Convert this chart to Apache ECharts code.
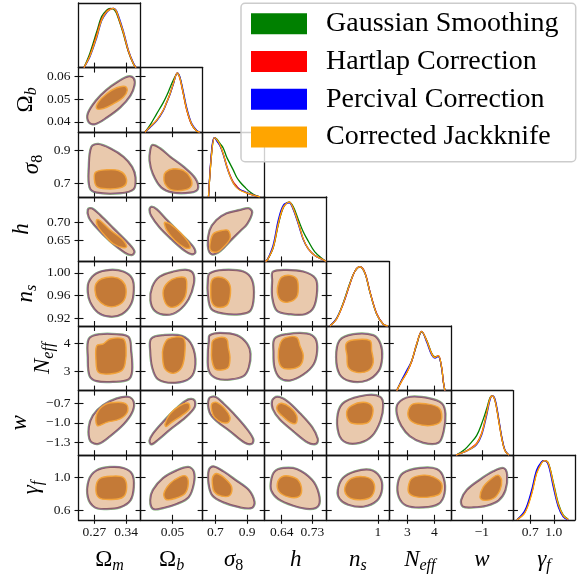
<!DOCTYPE html>
<html><head><meta charset="utf-8">
<script src="https://cdn.jsdelivr.net/npm/echarts@6/dist/echarts.min.js"></script>
<style>html,body{margin:0;padding:0;background:#fff}#c{width:587px;height:577px}</style>
</head><body><div id="c"></div>
<script>
// ---------- series / parameters ----------
const seriesNames = ['Gaussian Smoothing','Hartlap Correction','Percival Correction','Corrected Jackknife'];
const seriesColors = ['#008000','#ff0000','#0000ff','#ffa500'];
const paramKeys = ['Om','Ob','s8','h','ns','Neff','w','gf'];
const paramLabels = ['{g|Ω}{si|m}','{g|Ω}{si|b}','{i|σ}{su|8}','{i|h}','{i|n}{si|s}','{i|N}{si|eff}','{i|w}','{i|γ}{si|f}'];
const paramRanges = [[0.235,0.372],[0.0355,0.0637],[0.62,1.01],[0.59,0.772],[0.907,1.02],[2.31,4.61],[-1.5,-0.5],[0.48,1.27]];
const xTickValues = [[0.27,0.34],[0.05],[0.7,0.9],[0.64,0.73],[1],[3,4],[-1],[0.7,1.0]];
const xTickLabels = [['0.27','0.34'],['0.05'],['0.7','0.9'],['0.64','0.73'],['1'],['3','4'],['−1'],['0.7','1.0']];
const yTickValues = [[],[0.04,0.05,0.06],[0.7,0.9],[0.65,0.70],[0.92,0.96,1.00],[3,4],[-1.3,-1.0,-0.7],[0.6,1.0]];
const yTickLabels = [[],['0.04','0.05','0.06'],['0.7','0.9'],['0.65','0.70'],['0.92','0.96','1.00'],['3','4'],['−1.3','−1.0','−0.7'],['0.6','1.0']];

// ---------- 1D marginals (normalised to peak = 1) ----------
const Om_x = [0.247,0.260,0.275,0.286,0.297,0.305,0.312,0.318,0.323,0.334,0.345,0.356,0.362];
const Om_gauss = [0,0.24,0.60,0.86,0.97,1.00,0.99,0.93,0.83,0.57,0.27,0.06,0];
const Om_hart  = [0,0.20,0.55,0.82,0.95,0.99,1.00,0.95,0.85,0.59,0.28,0.07,0];
const Om_perc  = [0,0.18,0.50,0.79,0.93,0.98,1.00,0.97,0.88,0.62,0.30,0.08,0];
const Om_jack  = [0,0.19,0.52,0.80,0.94,0.98,1.00,0.96,0.86,0.60,0.29,0.07,0];

const Ob_x = [0.0375,0.0398,0.0428,0.0458,0.0474,0.0489,0.0504,0.0522,0.0534,0.0549,0.0565,0.0587,0.0610,0.0625];
const Ob_gauss = [0,0.12,0.31,0.50,0.62,0.75,0.88,0.99,0.92,0.66,0.38,0.13,0.02,0];
const Ob_hart  = [0,0.09,0.20,0.37,0.51,0.65,0.82,1.00,0.90,0.65,0.37,0.13,0.02,0];
const Ob_perc  = [0,0.08,0.19,0.36,0.50,0.64,0.81,1.00,0.93,0.69,0.41,0.15,0.03,0];
const Ob_jack  = [0,0.09,0.20,0.37,0.51,0.65,0.82,1.00,0.91,0.66,0.38,0.14,0.02,0];

const s8_x = [0.657,0.679,0.695,0.710,0.729,0.750,0.771,0.792,0.813,0.834,0.855,0.886,0.918,0.955,0.981];
const s8_gauss = [0,0.80,1.00,0.97,0.90,0.82,0.67,0.56,0.45,0.33,0.25,0.16,0.08,0.02,0];
const s8_hart  = [0,0.82,1.00,0.95,0.87,0.72,0.53,0.37,0.25,0.18,0.12,0.08,0.045,0.015,0];
const s8_perc  = [0,0.85,1.00,0.94,0.86,0.71,0.51,0.35,0.23,0.16,0.12,0.085,0.05,0.015,0];
const s8_jack  = [0,0.80,1.00,0.96,0.88,0.72,0.52,0.35,0.23,0.155,0.11,0.075,0.045,0.015,0];

const h_x = [0.592,0.598,0.615,0.630,0.645,0.662,0.674,0.689,0.703,0.718,0.737,0.762,0.770];
const h_gauss = [0,0.025,0.23,0.62,0.91,1.00,0.92,0.70,0.50,0.34,0.16,0.03,0];
const h_hart  = [0,0.025,0.24,0.64,0.92,1.00,0.89,0.64,0.38,0.21,0.10,0.025,0];
const h_perc  = [0,0.03,0.28,0.70,0.95,0.99,0.87,0.62,0.37,0.21,0.10,0.025,0];
const h_jack  = [0,0.025,0.24,0.64,0.92,1.00,0.89,0.64,0.38,0.21,0.10,0.025,0];

const ns_x = [0.9128,0.925,0.937,0.949,0.958,0.9675,0.9766,0.9857,0.998,1.010,1.0185];
const ns_gauss = [0,0.13,0.39,0.72,0.92,1.00,0.89,0.57,0.20,0.03,0];
const ns_hart  = [0,0.12,0.37,0.70,0.92,1.00,0.90,0.58,0.21,0.03,0];
const ns_perc  = [0,0.13,0.38,0.71,0.92,1.00,0.89,0.57,0.20,0.03,0];
const ns_jack  = [0,0.12,0.38,0.71,0.92,1.00,0.89,0.57,0.20,0.03,0];

const Neff_x = [2.603,2.788,2.973,3.158,3.343,3.529,3.714,3.899,4.021,4.143,4.269,4.33,4.39];
const Neff_gauss = [0,0.17,0.31,0.50,0.77,0.99,0.85,0.63,0.57,0.58,0.38,0.15,0];
const Neff_hart  = [0,0.16,0.30,0.49,0.78,1.00,0.84,0.62,0.56,0.59,0.39,0.15,0];
const Neff_perc  = [0,0.18,0.34,0.50,0.79,1.00,0.82,0.60,0.55,0.58,0.38,0.15,0];
const Neff_jack  = [0,0.16,0.30,0.50,0.79,1.00,0.84,0.62,0.56,0.59,0.39,0.15,0];

const w_x = [-1.418,-1.273,-1.192,-1.085,-1.004,-0.924,-0.870,-0.833,-0.790,-0.737,-0.682,-0.629,-0.564];
const w_gauss = [0,0.10,0.19,0.33,0.53,0.78,0.97,1.00,0.93,0.64,0.30,0.08,0];
const w_hart  = [0,0.06,0.11,0.20,0.37,0.71,0.95,1.00,0.93,0.64,0.30,0.08,0];
const w_perc  = [0,0.06,0.10,0.18,0.34,0.67,0.93,1.00,0.95,0.67,0.32,0.09,0];
const w_jack  = [0,0.06,0.10,0.19,0.36,0.70,0.95,1.00,0.93,0.64,0.30,0.08,0];

const gf_x = [0.531,0.633,0.718,0.782,0.846,0.879,0.930,0.993,1.057,1.121,1.184];
const gf_gauss = [0,0.14,0.46,0.80,0.97,1.00,0.96,0.64,0.28,0.08,0.01];
const gf_hart  = [0,0.13,0.45,0.80,0.97,1.00,0.95,0.60,0.25,0.06,0];
const gf_perc  = [0,0.16,0.50,0.84,0.98,1.00,0.93,0.56,0.22,0.05,0];
const gf_jack  = [0,0.12,0.43,0.78,0.96,1.00,0.96,0.62,0.26,0.07,0.005];

// ---------- 2D contours [x, y] (68% inner, 95% outer) ----------
const Om_Ob_out = [[0.2588,0.0399],[0.2566,0.0436],[0.2752,0.0494],[0.2973,0.0538],[0.3229,0.0574],[0.3449,0.0596],[0.356,0.0589],[0.3575,0.056],[0.3487,0.0516],[0.3266,0.0465],[0.2973,0.0421],[0.2714,0.0392]];
const Om_Ob_in  = [[0.2752,0.0458],[0.2787,0.0486],[0.2973,0.0523],[0.3193,0.0549],[0.3377,0.0555],[0.3427,0.0538],[0.3339,0.0508],[0.3118,0.0479],[0.2897,0.0458]];
const Om_s8_out = [[0.2641,0.919],[0.2588,0.799],[0.2604,0.678],[0.2752,0.648],[0.3266,0.644],[0.356,0.668],[0.3597,0.738],[0.3524,0.799],[0.3339,0.859],[0.3045,0.910],[0.2787,0.936]];
const Om_s8_in  = [[0.273,0.769],[0.2973,0.783],[0.3229,0.779],[0.3377,0.749],[0.3399,0.698],[0.3266,0.674],[0.2973,0.668],[0.2752,0.682],[0.2699,0.729]];
const Ob_s8_out = [[0.041,0.930],[0.0443,0.910],[0.0489,0.859],[0.0549,0.799],[0.0602,0.729],[0.0613,0.668],[0.058,0.648],[0.0504,0.648],[0.0451,0.678],[0.0413,0.759],[0.0398,0.839],[0.0401,0.900]];
const Ob_s8_in  = [[0.0469,0.769],[0.0504,0.789],[0.0549,0.779],[0.058,0.738],[0.0587,0.688],[0.0557,0.662],[0.0496,0.662],[0.0466,0.698],[0.0461,0.738]];
const Om_h_out = [[0.2566,0.7354],[0.2641,0.7382],[0.2825,0.7193],[0.3118,0.6819],[0.345,0.6396],[0.3575,0.6179],[0.3524,0.6095],[0.3377,0.6159],[0.3045,0.6489],[0.2752,0.6864],[0.2588,0.7145]];
const Om_h_in  = [[0.2752,0.7072],[0.2825,0.7053],[0.3045,0.679],[0.3304,0.6537],[0.3414,0.632],[0.3339,0.6283],[0.3118,0.6396],[0.2897,0.6678],[0.2765,0.6912]];
const Ob_h_out = [[0.0405,0.7427],[0.0428,0.7354],[0.0474,0.7053],[0.0534,0.6678],[0.0587,0.6348],[0.0602,0.6159],[0.0587,0.6114],[0.0557,0.6207],[0.0496,0.6537],[0.0443,0.6864],[0.0405,0.7193],[0.0398,0.7354]];
const Ob_h_in  = [[0.0466,0.7005],[0.0489,0.6959],[0.0534,0.6723],[0.0572,0.6441],[0.058,0.6283],[0.0557,0.6283],[0.0511,0.6489],[0.0474,0.6771],[0.0463,0.6959]];
const s8_h_out = [[0.6665,0.677],[0.7086,0.7053],[0.7714,0.7242],[0.8549,0.7334],[0.9071,0.7382],[0.9284,0.7286],[0.897,0.696],[0.8549,0.677],[0.7921,0.6489],[0.7293,0.6207],[0.6772,0.6114],[0.6558,0.6348]];
const s8_h_in  = [[0.6665,0.6396],[0.6872,0.6678],[0.74,0.677],[0.7814,0.677],[0.7921,0.6537],[0.7407,0.6255],[0.7086,0.616],[0.6709,0.6207]];
const Om_ns_out = [[0.2588,0.9838],[0.2752,0.9985],[0.3045,1.0043],[0.3339,1.0013],[0.3524,0.9897],[0.356,0.9693],[0.3502,0.946],[0.3304,0.9285],[0.3045,0.9243],[0.2787,0.9313],[0.2619,0.9488],[0.2566,0.9663]];
const Om_ns_in  = [[0.2736,0.981],[0.2862,0.9897],[0.3118,0.9925],[0.3304,0.9868],[0.3399,0.9722],[0.3354,0.9518],[0.3156,0.9413],[0.2935,0.943],[0.2765,0.9548],[0.2714,0.9693]];
const Ob_ns_out = [[0.041,0.975],[0.0443,0.9925],[0.0504,1.0013],[0.0565,1.0043],[0.0592,0.9985],[0.0595,0.981],[0.0572,0.9548],[0.0526,0.9343],[0.0474,0.9273],[0.0421,0.9343],[0.0402,0.9518]];
const Ob_ns_in  = [[0.0458,0.9693],[0.0481,0.9838],[0.0519,0.9915],[0.0557,0.9915],[0.0565,0.981],[0.0557,0.9577],[0.0526,0.943],[0.0489,0.9401],[0.0466,0.9488]];
const s8_ns_out = [[0.6665,0.9985],[0.75,1.0043],[0.8756,1.0013],[0.9284,0.9868],[0.9385,0.9577],[0.9177,0.9343],[0.8549,0.9285],[0.75,0.9296],[0.6772,0.9373],[0.6558,0.9635],[0.6558,0.9868]];
const s8_ns_in  = [[0.6772,0.9868],[0.7086,0.9925],[0.7607,0.9897],[0.7921,0.978],[0.7921,0.9577],[0.7714,0.943],[0.7086,0.9401],[0.6772,0.9488],[0.6709,0.9693]];
const h_ns_out = [[0.6152,1.0013],[0.6545,1.0043],[0.7032,1.0013],[0.7375,0.9897],[0.7425,0.9693],[0.7325,0.9401],[0.7082,0.9285],[0.6642,0.9285],[0.627,0.9343],[0.6135,0.9577],[0.6135,0.9868]];
const h_ns_in  = [[0.6299,0.981],[0.6399,0.9925],[0.6642,0.9955],[0.6838,0.9897],[0.6885,0.975],[0.6838,0.9577],[0.6592,0.9488],[0.6369,0.9518],[0.627,0.9663]];
const Om_Neff_out = [[0.2588,4.148],[0.2825,4.301],[0.3193,4.301],[0.345,4.205],[0.3502,3.732],[0.3524,3.02],[0.345,2.725],[0.3118,2.64],[0.2752,2.664],[0.2604,2.842],[0.2566,3.493]];
const Om_Neff_in  = [[0.2752,3.91],[0.2897,3.97],[0.3045,4.148],[0.3339,4.148],[0.3399,3.849],[0.3377,3.258],[0.3304,3.02],[0.3045,2.902],[0.2787,2.96],[0.2736,3.376]];
const Ob_Neff_out = [[0.0405,4.148],[0.0458,4.265],[0.0542,4.241],[0.0587,3.91],[0.0602,3.258],[0.058,2.781],[0.0511,2.604],[0.0436,2.725],[0.041,3.138],[0.0401,3.732]];
const Ob_Neff_in  = [[0.0458,3.849],[0.0481,4.148],[0.0549,4.184],[0.0557,3.732],[0.0542,3.138],[0.0504,2.924],[0.0466,3.081],[0.0455,3.493]];
const s8_Neff_out = [[0.6665,4.265],[0.7293,4.348],[0.8342,4.265],[0.897,3.97],[0.9177,3.614],[0.9071,3.138],[0.8756,2.842],[0.7921,2.725],[0.7086,2.76],[0.6621,3.02],[0.6558,3.614],[0.6621,4.088]];
const s8_Neff_in  = [[0.6834,4.088],[0.7293,4.205],[0.7714,4.148],[0.7814,3.849],[0.7921,3.493],[0.7814,3.138],[0.74,3.045],[0.6979,3.081],[0.6772,3.436],[0.6772,3.849]];
const h_Neff_out = [[0.6202,4.148],[0.6545,4.301],[0.7132,4.326],[0.7375,4.148],[0.7425,3.732],[0.7325,3.258],[0.7032,2.902],[0.6642,2.689],[0.6349,2.781],[0.6202,3.138],[0.6173,3.672]];
const h_Neff_in  = [[0.6349,3.97],[0.6495,4.184],[0.6838,4.205],[0.6935,3.91],[0.7032,3.554],[0.6935,3.198],[0.6642,3.081],[0.6399,3.138],[0.6299,3.493]];
const ns_Neff_out = [[0.9311,4.088],[0.9553,4.301],[0.9917,4.265],[1.004,3.97],[1.007,3.493],[1.0009,3.02],[0.9797,2.689],[0.9493,2.664],[0.9311,2.902],[0.925,3.493]];
const ns_Neff_in  = [[0.942,3.97],[0.9553,4.112],[0.9857,4.088],[0.9888,3.732],[0.9917,3.315],[0.9826,3.02],[0.9615,2.96],[0.9462,3.138],[0.9438,3.554]];
const Om_w_out = [[0.2588,-1.068],[0.2677,-0.887],[0.2897,-0.732],[0.3193,-0.629],[0.345,-0.604],[0.356,-0.681],[0.3524,-0.836],[0.3339,-1.016],[0.3045,-1.197],[0.2787,-1.316],[0.2619,-1.274]];
const Om_w_in  = [[0.2752,-0.861],[0.2935,-0.717],[0.3229,-0.681],[0.3414,-0.717],[0.3427,-0.836],[0.3266,-0.938],[0.2973,-0.991],[0.2765,-1.042]];
const Ob_w_out = [[0.0398,-1.274],[0.0413,-1.17],[0.0458,-0.991],[0.0519,-0.783],[0.0572,-0.644],[0.0598,-0.655],[0.0598,-0.758],[0.0557,-0.913],[0.0489,-1.093],[0.0436,-1.248],[0.0405,-1.325]];
const Ob_w_in  = [[0.0466,-1.016],[0.0489,-0.861],[0.0534,-0.732],[0.0572,-0.696],[0.0577,-0.783],[0.0542,-0.887],[0.0496,-0.991],[0.0471,-1.057]];
const s8_w_out = [[0.6621,-0.629],[0.6979,-0.604],[0.75,-0.706],[0.8128,-0.861],[0.8863,-1.068],[0.9347,-1.248],[0.9284,-1.316],[0.8863,-1.3],[0.7921,-1.119],[0.7086,-0.964],[0.6665,-0.836]];
const s8_w_in  = [[0.6772,-0.706],[0.7086,-0.681],[0.7607,-0.783],[0.7921,-0.913],[0.7814,-0.991],[0.74,-0.991],[0.6936,-0.913],[0.6772,-0.81]];
const h_w_out = [[0.6135,-0.655],[0.627,-0.604],[0.6545,-0.666],[0.6935,-0.861],[0.7278,-1.068],[0.7443,-1.248],[0.7404,-1.316],[0.7179,-1.3],[0.6739,-1.119],[0.6349,-0.938],[0.6152,-0.783]];
const h_w_in  = [[0.627,-0.732],[0.6399,-0.696],[0.6642,-0.758],[0.6838,-0.887],[0.6818,-1.006],[0.6642,-0.991],[0.6399,-0.887],[0.627,-0.81]];
const ns_w_out = [[0.928,-0.861],[0.9402,-0.681],[0.9797,-0.577],[1.004,-0.604],[1.0089,-0.732],[1.004,-0.964],[0.9888,-1.197],[0.9675,-1.3],[0.9432,-1.3],[0.9298,-1.17]];
const ns_w_in  = [[0.9432,-0.836],[0.9523,-0.732],[0.9735,-0.681],[0.9888,-0.732],[0.9907,-0.861],[0.9826,-0.991],[0.9644,-1.016],[0.9493,-0.991]];
const Neff_w_out = [[2.662,-0.706],[3.095,-0.604],[3.836,-0.629],[4.269,-0.706],[4.391,-0.861],[4.329,-1.119],[4.143,-1.3],[3.588,-1.3],[3.095,-1.197],[2.788,-1.042],[2.625,-0.861]];
const Neff_w_in  = [[3.032,-0.81],[3.217,-0.706],[3.714,-0.706],[4.143,-0.758],[4.269,-0.861],[4.207,-0.991],[3.836,-1.042],[3.343,-1.016],[3.069,-0.938]];
const Om_gf_out = [[0.2588,0.9644],[0.2752,1.078],[0.3045,1.119],[0.3339,1.107],[0.3524,1.037],[0.356,0.8825],[0.3487,0.72],[0.3266,0.638],[0.2973,0.6184],[0.2714,0.638],[0.2566,0.7602]];
const Om_gf_in  = [[0.2736,0.8825],[0.2825,0.9852],[0.3083,1.013],[0.3339,0.9974],[0.3414,0.8825],[0.3339,0.7602],[0.3083,0.7284],[0.2794,0.7529]];
const Ob_gf_out = [[0.0401,0.72],[0.0413,0.8422],[0.0458,0.9852],[0.0519,1.078],[0.0572,1.119],[0.0595,1.066],[0.0595,0.924],[0.0572,0.7602],[0.0519,0.6795],[0.0458,0.6306],[0.0413,0.6184]];
const Ob_gf_in  = [[0.0461,0.8018],[0.0489,0.924],[0.0534,1.005],[0.0562,1.013],[0.0572,0.924],[0.0557,0.8018],[0.0511,0.7407],[0.0471,0.7284]];
const s8_gf_out = [[0.6621,1.087],[0.6872,1.127],[0.75,1.066],[0.8235,0.9644],[0.9071,0.8422],[0.9429,0.6993],[0.9284,0.6306],[0.8549,0.638],[0.75,0.6993],[0.6834,0.781],[0.6602,0.924]];
const s8_gf_in  = [[0.6834,1.005],[0.7086,1.046],[0.7607,0.9852],[0.8028,0.8825],[0.7921,0.781],[0.74,0.7688],[0.6936,0.8214],[0.6809,0.924]];
const h_gf_out = [[0.6105,0.9644],[0.6202,1.066],[0.6445,1.107],[0.6838,1.095],[0.7278,0.9644],[0.7472,0.8018],[0.7472,0.6588],[0.7228,0.6184],[0.6739,0.6588],[0.6299,0.7407],[0.6105,0.8422]];
const h_gf_in  = [[0.627,0.924],[0.6399,1.005],[0.6642,1.013],[0.6885,0.9644],[0.6985,0.8422],[0.6885,0.7602],[0.6592,0.7602],[0.6328,0.8214]];
const ns_gf_out = [[0.928,0.8422],[0.937,0.9852],[0.9584,1.066],[0.9857,1.087],[1.0027,1.005],[1.007,0.8618],[0.9979,0.72],[0.9735,0.6465],[0.9462,0.671],[0.9311,0.7407]];
const ns_gf_in  = [[0.9402,0.8825],[0.9523,0.9852],[0.9766,1.005],[0.9917,0.9444],[0.993,0.8214],[0.9826,0.7407],[0.9584,0.7284],[0.9432,0.781]];
const Neff_gf_out = [[2.662,0.924],[2.847,1.046],[3.466,1.107],[4.084,1.095],[4.329,0.9852],[4.355,0.8018],[4.143,0.6795],[3.588,0.638],[2.973,0.6588],[2.699,0.7602]];
const Neff_gf_in  = [[3.032,0.8825],[3.158,0.9852],[3.588,1.026],[3.959,1.005],[4.269,0.924],[4.207,0.8018],[3.836,0.7602],[3.343,0.7602],[3.069,0.8018]];
const w_gf_out = [[-1.326,0.72],[-1.236,0.8422],[-1.031,0.9644],[-0.817,1.066],[-0.656,1.107],[-0.601,1.026],[-0.629,0.8422],[-0.737,0.72],[-0.924,0.6588],[-1.139,0.638],[-1.3,0.6465]];
const w_gf_in  = [[-1.031,0.7602],[-0.978,0.8825],[-0.843,0.9852],[-0.737,1.026],[-0.682,0.9644],[-0.709,0.8422],[-0.817,0.7407],[-0.978,0.72]];

// ---------- lookup tables built from the arrays above ----------
const diag = {
  Om:[Om_x,[Om_gauss,Om_hart,Om_perc,Om_jack]], Ob:[Ob_x,[Ob_gauss,Ob_hart,Ob_perc,Ob_jack]],
  s8:[s8_x,[s8_gauss,s8_hart,s8_perc,s8_jack]], h:[h_x,[h_gauss,h_hart,h_perc,h_jack]],
  ns:[ns_x,[ns_gauss,ns_hart,ns_perc,ns_jack]], Neff:[Neff_x,[Neff_gauss,Neff_hart,Neff_perc,Neff_jack]],
  w:[w_x,[w_gauss,w_hart,w_perc,w_jack]], gf:[gf_x,[gf_gauss,gf_hart,gf_perc,gf_jack]]
};
const contours = {
  Om_Ob:[Om_Ob_out,Om_Ob_in], Om_s8:[Om_s8_out,Om_s8_in], Ob_s8:[Ob_s8_out,Ob_s8_in],
  Om_h:[Om_h_out,Om_h_in], Ob_h:[Ob_h_out,Ob_h_in], s8_h:[s8_h_out,s8_h_in],
  Om_ns:[Om_ns_out,Om_ns_in], Ob_ns:[Ob_ns_out,Ob_ns_in], s8_ns:[s8_ns_out,s8_ns_in], h_ns:[h_ns_out,h_ns_in],
  Om_Neff:[Om_Neff_out,Om_Neff_in], Ob_Neff:[Ob_Neff_out,Ob_Neff_in], s8_Neff:[s8_Neff_out,s8_Neff_in], h_Neff:[h_Neff_out,h_Neff_in], ns_Neff:[ns_Neff_out,ns_Neff_in],
  Om_w:[Om_w_out,Om_w_in], Ob_w:[Ob_w_out,Ob_w_in], s8_w:[s8_w_out,s8_w_in], h_w:[h_w_out,h_w_in], ns_w:[ns_w_out,ns_w_in], Neff_w:[Neff_w_out,Neff_w_in],
  Om_gf:[Om_gf_out,Om_gf_in], Ob_gf:[Ob_gf_out,Ob_gf_in], s8_gf:[s8_gf_out,s8_gf_in], h_gf:[h_gf_out,h_gf_in], ns_gf:[ns_gf_out,ns_gf_in], Neff_gf:[Neff_gf_out,Neff_gf_in], w_gf:[w_gf_out,w_gf_in]
};

// ---------- layout / style ----------
const X0 = 78.5, Y0 = 3, CW = 62.06, RH = 64.6;
const FR = '#111', LW = 1.3;
const SERIF = 'Liberation Serif';
const yNameGap = [0, 38.5, 32.5, 42.5, 38.5, 21.5, 44.5, 32.5];
const rich = {
  g:{fontFamily:SERIF,fontSize:23,lineHeight:28,color:'#000'},
  i:{fontFamily:SERIF,fontStyle:'italic',fontSize:23,lineHeight:28,color:'#000'},
  si:{fontFamily:SERIF,fontStyle:'italic',fontSize:16,lineHeight:14,verticalAlign:'bottom',color:'#000'},
  su:{fontFamily:SERIF,fontSize:16,lineHeight:14,verticalAlign:'bottom',color:'#000'}
};

const grids=[], xAxes=[], yAxes=[], series=[];
function tick(vals, inside, len){ return {show:vals.length>0, inside:inside, length:len, customValues:vals, lineStyle:{color:FR,width:1.1}}; }
function fmt(vals, labs){ return v => { const k = vals.findIndex(t => Math.abs(t-v) < 1e-9); return k>=0 ? labs[k] : ''; }; }
function baseAxis(g, p, extra){
  return Object.assign({gridIndex:g, type:'value', min:paramRanges[p][0], max:paramRanges[p][1],
    splitLine:{show:false}, axisLine:{show:true,onZero:false,lineStyle:{color:FR,width:LW}},
    axisTick:{show:false}, axisLabel:{show:false}}, extra);
}
function addX(o){ xAxes.push(o); return xAxes.length-1; }
function addY(o){ yAxes.push(o); return yAxes.length-1; }
const hidden = {show:false};

for (let i=0;i<8;i++){
  for (let j=0;j<=i;j++){
    grids.push({left:X0+j*CW, top:Y0+i*RH, width:CW, height:RH});
    const g = grids.length-1;
    const xb = addX(baseAxis(g, j, {position:'bottom', axisTick:tick(xTickValues[j],true,5)}));
    addX(baseAxis(g, j, {position:'top', axisTick: i===j ? hidden : tick(xTickValues[j],true,5)}));
    if (i===7){
      addX(baseAxis(g, j, {position:'bottom', axisLine:hidden, axisTick:tick(xTickValues[j],false,4),
        axisLabel:{show:true, customValues:xTickValues[j], formatter:fmt(xTickValues[j],xTickLabels[j]), margin:6,
          fontFamily:SERIF, fontSize:13.5, color:'#111'},
        name:paramLabels[j], nameLocation:'middle', nameGap:26, nameTextStyle:{rich:rich}}));
    }
    if (i===j){
      const yd = addY({gridIndex:g, type:'value', min:0, max:1.09, position:'left', splitLine:hidden,
        axisLine:{show:true,onZero:false,lineStyle:{color:FR,width:LW}}, axisTick:hidden, axisLabel:hidden});
      addY({gridIndex:g, type:'value', min:0, max:1.09, position:'right', splitLine:hidden,
        axisLine:{show:true,onZero:false,lineStyle:{color:FR,width:LW}}, axisTick:hidden, axisLabel:hidden});
      if (i>0) addY(baseAxis(g, i, {position:'left', axisLine:hidden, axisTick:tick(yTickValues[i],true,5)}));
      const [xs, dens] = diag[paramKeys[i]];
      for (let s=0;s<4;s++){
        series.push({type:'line', name:seriesNames[s], xAxisIndex:xb, yAxisIndex:yd,
          data: xs.map((x,k)=>[x, dens[s][k]]), smooth:0.35, showSymbol:false, silent:true, animation:false,
          color:seriesColors[s], lineStyle:{color:seriesColors[s], width:1.3}, itemStyle:{color:seriesColors[s]}});
      }
    } else {
      const yl = addY(baseAxis(g, i, {position:'left', axisTick:tick(yTickValues[i],true,5)}));
      addY(baseAxis(g, i, {position:'right', axisTick:tick(yTickValues[i],true,5)}));
      if (j===0){
        addY(baseAxis(g, i, {position:'left', axisLine:hidden, axisTick:tick(yTickValues[i],false,4),
          axisLabel:{show:true, customValues:yTickValues[i], formatter:fmt(yTickValues[i],yTickLabels[i]), margin:8,
            fontFamily:SERIF, fontSize:13.5, color:'#111'},
          name:paramLabels[i], nameLocation:'middle', nameRotate:90, nameGap:yNameGap[i], nameTextStyle:{rich:rich}}));
      }
      const [outer, inner] = contours[paramKeys[j]+'_'+paramKeys[i]];
      for (let s=0;s<4;s++){
        series.push({type:'custom', name:seriesNames[s], coordinateSystem:'cartesian2d', xAxisIndex:xb, yAxisIndex:yl,
          data:[outer[0]], silent:true, animation:false, clip:true, itemStyle:{color:seriesColors[s]},
          renderItem:(params, api) => {
            const op = outer.map(p=>api.coord(p)), ip = inner.map(p=>api.coord(p));
            if (s===0) return {type:'polygon', shape:{points:op, smooth:0.35}, style:{fill:'none', stroke:'rgba(40,150,40,0.6)', lineWidth:3.4}};
            if (s===1) return {type:'polygon', shape:{points:op, smooth:0.35}, style:{fill:'none', stroke:'rgba(230,70,100,0.5)', lineWidth:2.6}};
            if (s===2) return {type:'polygon', shape:{points:op, smooth:0.35}, style:{fill:'none', stroke:'rgba(90,80,220,0.5)', lineWidth:2.1}};
            return {type:'group', children:[
              {type:'polygon', shape:{points:op, smooth:0.35}, style:{fill:'#e9c9ad', stroke:'#8b5d66', lineWidth:1.1}},
              {type:'polygon', shape:{points:ip, smooth:0.35}, style:{fill:'#c47a37', stroke:'#f2a33a', lineWidth:1.4}}
            ]};
          }});
      }
    }
  }
}

const chart = echarts.init(document.getElementById('c'), null, {renderer:'canvas'});
chart.setOption({
  animation:false,
  grid:grids, xAxis:xAxes, yAxis:yAxes, series:series,
  legend:{data:seriesNames, orient:'vertical', left:251, top:9.8, padding:0, itemWidth:56, itemHeight:21, itemGap:9.7,
    icon:'rect', selectedMode:false, z:6,
    textStyle:{fontFamily:SERIF, fontSize:28, lineHeight:28, color:'#000', padding:[0,0,0,14]}},
  graphic:[{type:'rect', z:5, shape:{x:241, y:3.3, width:334.7, height:158.4, r:4},
    style:{fill:'rgba(255,255,255,0.8)', stroke:'#cccccc', lineWidth:1.5}}]
});
</script></body></html>
